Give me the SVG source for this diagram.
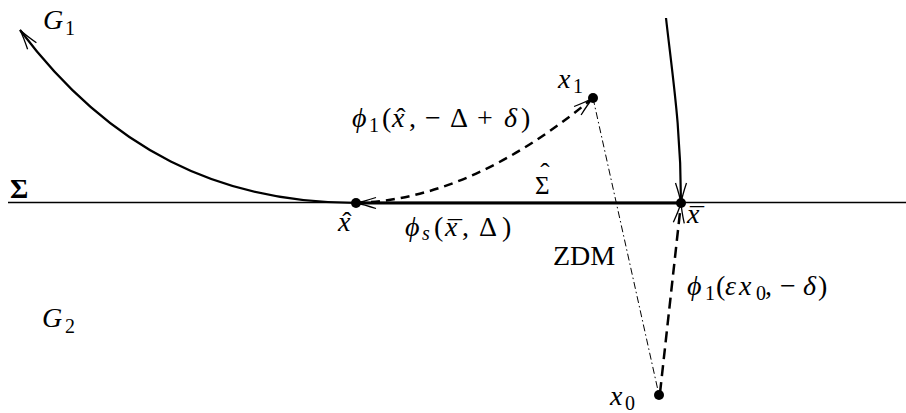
<svg xmlns="http://www.w3.org/2000/svg" width="906" height="413" viewBox="0 0 906 413">
<defs>
<marker id="ar" markerUnits="userSpaceOnUse" viewBox="-22 -8 24 16" markerWidth="24" markerHeight="16" refX="0" refY="0" orient="auto">
<path d="M-20,-5.5 Q-8,-1.5 0,0 Q-8,1.5 -20,5.5" fill="none" stroke="#000" stroke-width="1.3"/>
</marker>
</defs>
<rect width="906" height="413" fill="#fff"/>
<g id="connectors" fill="none" stroke="#000">
<line x1="8" y1="202.5" x2="906" y2="202.5" stroke-width="1.3"/>
<path id="sigma-hat-flow" d="M681,203 L356,203" stroke-width="3" marker-end="url(#ar)"/>
<path id="g1-orbit" d="M356,203 C220,203 110,150 20,30" stroke-width="2.2" marker-end="url(#ar)"/>
<path id="incoming" d="M666,18 C673,80 681,130 681,203" stroke-width="2.2" marker-end="url(#ar)"/>
<path id="phi1-xhat" d="M356,203 C450,200 530,150 593,98" stroke-width="2.5" stroke-dasharray="9,6" marker-end="url(#ar)"/>
<path id="phi1-x0" d="M660,393 L681,203" stroke-width="2.5" stroke-dasharray="11,6" marker-end="url(#ar)"/>
<path id="zdm" d="M593,98 L659,395" stroke-width="1" stroke-dasharray="7,3,1.5,3"/>
</g>
<g id="node-xhat">
<circle cx="356" cy="203" r="5" fill="#000"/>
<text x="338" y="231" font-family="Liberation Serif" font-size="28" font-style="italic">x</text>
<text x="347" y="231" text-anchor="middle" font-family="Liberation Serif" font-size="28">ˆ</text>
</g>
<g id="node-xbar">
<circle cx="681" cy="203" r="5" fill="#000"/>
<text x="687" y="223" font-family="Liberation Serif" font-size="28" font-style="italic">x</text>
<text x="697" y="227" text-anchor="middle" font-family="Liberation Serif" font-size="28">¯</text>
</g>
<g id="node-x1">
<circle cx="593" cy="98" r="5" fill="#000"/>
<text x="558" y="88" font-family="Liberation Serif" font-size="28" font-style="italic">x</text>
<text x="573" y="93" font-family="Liberation Serif" font-size="20">1</text>
</g>
<g id="node-x0">
<circle cx="659" cy="395" r="5" fill="#000"/>
<text x="610" y="405" font-family="Liberation Serif" font-size="28" font-style="italic">x</text>
<text x="625" y="410" font-family="Liberation Serif" font-size="20">0</text>
</g>
<g id="labels">
<text x="43" y="29" font-family="Liberation Serif" font-size="28" font-style="italic">G</text>
<text x="65" y="35" font-family="Liberation Serif" font-size="20">1</text>
<text x="42" y="327" font-family="Liberation Serif" font-size="28" font-style="italic">G</text>
<text x="65" y="333" font-family="Liberation Serif" font-size="20">2</text>
<text x="10" y="198" font-family="Liberation Serif" font-size="28" font-weight="bold">Σ</text>
<text x="535" y="194" font-family="Liberation Serif" font-size="25">Σ</text>
<text x="545" y="182" text-anchor="middle" font-family="Liberation Serif" font-size="28">ˆ</text>
<text x="553" y="265" font-family="Liberation Serif" font-size="28">ZDM</text>
<text font-family="Liberation Serif" font-size="28"><tspan x="352" y="127" font-family="Liberation Serif" font-style="italic">ϕ</tspan><tspan x="369" y="132" font-family="Liberation Serif" font-size="20">1</tspan><tspan x="382" y="127" font-family="Liberation Serif">(</tspan><tspan x="392" y="127" font-family="Liberation Serif" font-style="italic">x</tspan><tspan x="409" y="127" font-family="Liberation Serif">,</tspan><tspan x="425" y="127" font-family="Liberation Serif">−</tspan><tspan x="450" y="127" font-family="Liberation Serif">Δ</tspan><tspan x="477" y="127" font-family="Liberation Serif">+</tspan><tspan x="504" y="127" font-family="Liberation Serif" font-style="italic">δ</tspan><tspan x="521" y="127" font-family="Liberation Serif">)</tspan></text>
<text x="401" y="127" text-anchor="middle" font-family="Liberation Serif" font-size="28">ˆ</text>
<text font-family="Liberation Serif" font-size="28"><tspan x="405" y="236" font-family="Liberation Serif" font-style="italic">ϕ</tspan><tspan x="422" y="240" font-family="Liberation Serif" font-size="20" font-style="italic">s</tspan><tspan x="434" y="236" font-family="Liberation Serif">(</tspan><tspan x="445" y="236" font-family="Liberation Serif" font-style="italic">x</tspan><tspan x="462" y="236" font-family="Liberation Serif">,</tspan><tspan x="479" y="236" font-family="Liberation Serif">Δ</tspan><tspan x="502" y="236" font-family="Liberation Serif">)</tspan></text>
<text x="455" y="240" text-anchor="middle" font-family="Liberation Serif" font-size="28">¯</text>
<text font-family="Liberation Serif" font-size="28"><tspan x="687" y="295" font-family="Liberation Serif" font-style="italic">ϕ</tspan><tspan x="705" y="300" font-family="Liberation Serif" font-size="20">1</tspan><tspan x="716" y="295" font-family="Liberation Serif">(</tspan><tspan x="725" y="295" font-family="Liberation Serif" font-style="italic">ε</tspan><tspan x="739" y="295" font-family="Liberation Serif" font-style="italic">x</tspan><tspan x="756" y="300" font-family="Liberation Serif" font-size="20">0</tspan><tspan x="765" y="295" font-family="Liberation Serif">,</tspan><tspan x="780" y="295" font-family="Liberation Serif">−</tspan><tspan x="803" y="295" font-family="Liberation Serif" font-style="italic">δ</tspan><tspan x="818" y="295" font-family="Liberation Serif">)</tspan></text>
</g>
</svg>
